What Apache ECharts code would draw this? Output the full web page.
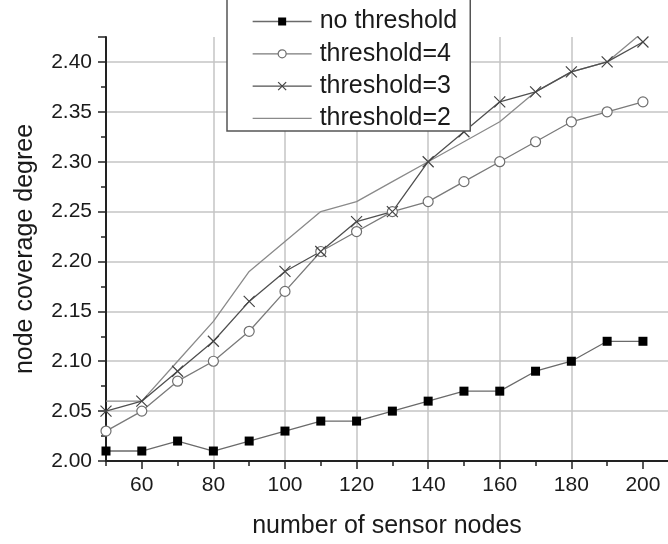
<!DOCTYPE html>
<html><head><meta charset="utf-8">
<script src="https://cdn.jsdelivr.net/npm/echarts@6/dist/echarts.min.js"></script>
<style>html,body{margin:0;padding:0;background:#fff}#c{width:668px;height:544px}</style>
</head><body><div id="c"></div>
<script>
const xValues = [50, 60, 70, 80, 90, 100, 110, 120, 130, 140, 150, 160, 170, 180, 190, 200];
const noThreshold = [2.01, 2.01, 2.02, 2.01, 2.02, 2.03, 2.04, 2.04, 2.05, 2.06, 2.07, 2.07, 2.09, 2.10, 2.12, 2.12];
const threshold4 = [2.03, 2.05, 2.08, 2.10, 2.13, 2.17, 2.21, 2.23, 2.25, 2.26, 2.28, 2.30, 2.32, 2.34, 2.35, 2.36];
const threshold3 = [2.05, 2.06, 2.09, 2.12, 2.16, 2.19, 2.21, 2.24, 2.25, 2.30, 2.33, 2.36, 2.37, 2.39, 2.40, 2.42];
const threshold2 = [2.06, 2.06, 2.10, 2.14, 2.19, 2.22, 2.25, 2.26, 2.28, 2.30, 2.32, 2.34, 2.37, 2.39, 2.40, 2.43];
const xTickLabels = [60, 80, 100, 120, 140, 160, 180, 200];
const xMinorTicks = [50, 60, 70, 80, 90, 100, 110, 120, 130, 140, 150, 160, 170, 180, 190, 200];
const seriesNames = ['no threshold', 'threshold=4', 'threshold=3', 'threshold=2'];
const xAxisName = 'number of sensor nodes';
const yAxisName = 'node coverage degree';

const font = 'Liberation Sans, Arial, sans-serif';
const txt = '#1a1a1a';
const axisCol = '#222';
const gridCol = '#c4c4c4';
function pairs(ys) { return xValues.map((x, i) => [x, ys[i]]); }
const xMark = 'path://M0,0L10,10M10,0L0,10';

const chart = echarts.init(document.getElementById('c'), null, { renderer: 'canvas' });
chart.setOption({
  animation: false,
  backgroundColor: '#fff',
  grid: { left: 106, right: 0, top: 37, bottom: 82, containLabel: false },
  xAxis: [
    {
      type: 'value', min: 50, max: 207, position: 'bottom',
      axisLine: { show: true, lineStyle: { color: axisCol, width: 2 } },
      axisTick: { show: true, inside: false, length: 5, customValues: xMinorTicks, lineStyle: { color: axisCol, width: 1.5 } },
      axisLabel: {
        fontFamily: font, fontSize: 21, color: txt, margin: 14, customValues: xTickLabels,
        formatter: v => String(Math.round(v))
      },
      splitLine: { show: false },
      name: xAxisName, nameLocation: 'middle', nameGap: 53,
      nameTextStyle: { fontFamily: font, fontSize: 25, color: txt }
    },
    {
      type: 'value', min: 50, max: 207, position: 'bottom',
      axisLine: { show: false },
      axisTick: { show: true, length: 8, customValues: xTickLabels, lineStyle: { color: axisCol, width: 1.5 } },
      axisLabel: { show: false },
      splitLine: { show: true, showMinLine: false, showMaxLine: false, lineStyle: { color: gridCol, width: 1.5 } }
    }
  ],
  yAxis: [
    {
      type: 'value', min: 2.0, max: 2.425, interval: 0.025, position: 'left',
      axisLine: { show: true, lineStyle: { color: axisCol, width: 2 } },
      axisTick: { show: true, inside: false, length: 5, lineStyle: { color: axisCol, width: 1.5 } },
      axisLabel: {
        fontFamily: font, fontSize: 21, color: txt, margin: 14,
        formatter: v => { const k = Math.round(v * 1000); return (k % 50 === 0 && k <= 2400) ? (k / 1000).toFixed(2) : ''; }
      },
      splitLine: { show: false },
      name: yAxisName, nameLocation: 'middle', nameGap: 68,
      nameTextStyle: { fontFamily: font, fontSize: 25, color: txt }
    },
    {
      type: 'value', min: 2.0, max: 2.425, interval: 0.05, position: 'left',
      axisLine: { show: false },
      axisTick: { show: true, length: 8, lineStyle: { color: axisCol, width: 1.5 } },
      axisLabel: { show: false },
      splitLine: { show: true, showMinLine: false, showMaxLine: false, lineStyle: { color: gridCol, width: 1.5 } }
    }
  ],
  legend: {
    orient: 'vertical', left: 227, top: -10,
    padding: [19, 13, 0, 25],
    itemWidth: 59, itemHeight: 10, itemGap: 7.3,
    backgroundColor: '#fff', borderColor: '#555', borderWidth: 1.5,
    itemStyle: { borderWidth: 1.2 },
    lineStyle: { width: 1.3 },
    textStyle: { fontFamily: font, fontSize: 25, color: txt, lineHeight: 24, padding: [0, 0, 0, 3] },
    data: [
      { name: seriesNames[0] },
      { name: seriesNames[1] },
      { name: seriesNames[2] },
      { name: seriesNames[3], itemStyle: { opacity: 0 } }
    ]
  },
  series: [
    {
      name: seriesNames[3], type: 'line', data: pairs(threshold2), symbol: 'none',
      itemStyle: { color: '#8a8a8a' }, lineStyle: { color: '#8a8a8a', width: 1.3 }
    },
    {
      name: seriesNames[1], type: 'line', data: pairs(threshold4), symbol: 'circle', symbolSize: 10, showAllSymbol: true,
      itemStyle: { color: '#fff', borderColor: '#6f6f6f', borderWidth: 1.2 },
      lineStyle: { color: '#7a7a7a', width: 1.3 }
    },
    {
      name: seriesNames[2], type: 'line', data: pairs(threshold3), symbol: xMark, symbolSize: 11, showAllSymbol: true,
      itemStyle: { color: '#444', borderColor: '#444', borderWidth: 1.2 },
      lineStyle: { color: '#505050', width: 1.3 }
    },
    {
      name: seriesNames[0], type: 'line', data: pairs(noThreshold), symbol: 'rect', symbolSize: 9, showAllSymbol: true,
      itemStyle: { color: '#000' },
      lineStyle: { color: '#6a6a6a', width: 1.3 }
    }
  ]
});
</script>
</body></html>
